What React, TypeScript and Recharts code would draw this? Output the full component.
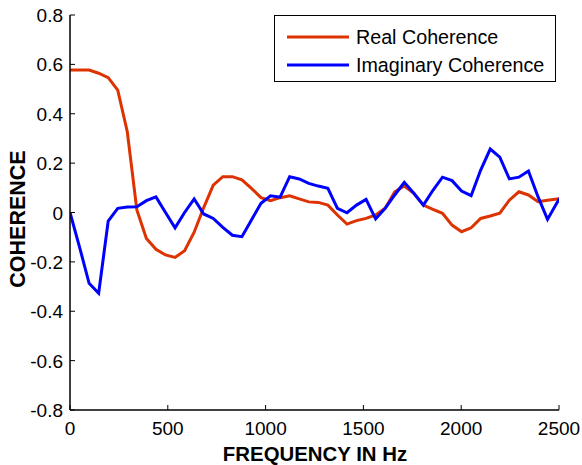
import React from "react";
import {
  LineChart,
  Line,
  XAxis,
  YAxis,
  Legend,
} from "recharts";

// frequency bins (Hz), ~48.8 Hz apart; the last one lies past the axis and is clipped
const FREQUENCY = [
  0, 48.8, 97.7, 146.5, 195.3, 244.1, 292.9, 341.8, 390.6, 439.5, 488.3, 537.1,
  585.9, 634.8, 683.6, 732.4, 781.3, 830.1, 878.9, 927.7, 976.6, 1025.4, 1074.2,
  1123.0, 1171.9, 1220.7, 1269.5, 1318.4, 1367.2, 1416.0, 1464.8, 1513.7, 1562.5,
  1611.3, 1660.2, 1709.0, 1757.8, 1806.6, 1855.5, 1904.3, 1953.1, 2001.9, 2050.8,
  2099.6, 2148.4, 2197.3, 2246.1, 2294.9, 2343.8, 2392.6, 2441.4, 2490.2, 2539.1,
];

const REAL_COHERENCE = [
  0.577, 0.577, 0.577, 0.564, 0.546, 0.496, 0.327, 0.01, -0.105, -0.149, -0.172,
  -0.182, -0.155, -0.08, 0.02, 0.111, 0.145, 0.145, 0.132, 0.098, 0.06, 0.048,
  0.06, 0.068, 0.055, 0.043, 0.041, 0.03, -0.01, -0.047, -0.033, -0.024, -0.01,
  0.017, 0.084, 0.107, 0.078, 0.03, 0.013, -0.003, -0.051, -0.078, -0.062,
  -0.024, -0.014, -0.003, 0.05, 0.084, 0.071, 0.044, 0.05, 0.055, 0.06,
];

const IMAGINARY_COHERENCE = [
  0.0, -0.14, -0.287, -0.327, -0.035, 0.017, 0.022, 0.023, 0.048, 0.063, 0.0,
  -0.062, 0.0, 0.055, -0.006, -0.024, -0.06, -0.092, -0.098, -0.03, 0.037, 0.068,
  0.062, 0.145, 0.136, 0.118, 0.107, 0.098, 0.017, -0.001, 0.03, 0.053, -0.026,
  0.017, 0.071, 0.122, 0.078, 0.03, 0.09, 0.143, 0.129, 0.087, 0.068, 0.172,
  0.257, 0.224, 0.136, 0.143, 0.168, 0.064, -0.028, 0.04, 0.1,
];

const X_TICKS = [0, 500, 1000, 1500, 2000, 2500];
const Y_TICKS = [-0.8, -0.6, -0.4, -0.2, 0, 0.2, 0.4, 0.6, 0.8];

const RED = "#dd3300";
const BLUE = "#0000ff";
const FONT = "'Liberation Sans', Arial, sans-serif";

const data = FREQUENCY.map((f, i) => ({
  freq: f,
  real: REAL_COHERENCE[i],
  imag: IMAGINARY_COHERENCE[i],
}));

const fmtY = (v: number) => (v === 0 ? "0" : v.toFixed(1));

const BottomTick = ({ x, y, payload }: any) => (
  <g>
    <line x1={x} x2={x} y1={y} y2={y - 5} stroke="#000" strokeWidth={1} />
    <text x={x} y={y + 25} textAnchor="middle" fontSize={19} fontFamily={FONT} fill="#000">
      {payload.value}
    </text>
  </g>
);

const LeftTick = ({ x, y, payload }: any) => (
  <g>
    <line x1={x} x2={x + 5} y1={y} y2={y} stroke="#000" strokeWidth={1} />
    <text x={x - 7} y={y + 7} textAnchor="end" fontSize={19} fontFamily={FONT} fill="#000">
      {fmtY(payload.value)}
    </text>
  </g>
);

const TopTick = ({ x, y }: any) => (
  <line x1={x} x2={x} y1={y} y2={y + 5} stroke="#000" strokeWidth={1} />
);

const RightTick = ({ x, y }: any) => (
  <line x1={x} x2={x - 5} y1={y} y2={y} stroke="#000" strokeWidth={1} />
);

const LegendBox = () => (
  <div
    style={{
      width: 282,
      height: 67,
      border: "1px solid #000",
      background: "#fff",
      fontFamily: FONT,
      fontSize: 19.7,
      color: "#000",
      boxSizing: "border-box",
    }}
  >
    {[
      { name: "Real Coherence", color: RED },
      { name: "Imaginary Coherence", color: BLUE },
    ].map((item, i) => (
      <div
        key={item.name}
        style={{
          position: "absolute",
          left: 13,
          top: 10 + i * 28,
          height: 24,
          display: "flex",
          alignItems: "center",
          whiteSpace: "nowrap",
        }}
      >
        <svg width={62} height={6} style={{ marginRight: 7 }}>
          <line x1={0} x2={62} y1={3} y2={3} stroke={item.color} strokeWidth={3} />
        </svg>
        <span>{item.name}</span>
      </div>
    ))}
  </div>
);

export default function App() {
  return (
    <div style={{ position: "absolute", left: 0, top: 0, background: "#fff" }}>
      <LineChart
        width={582}
        height={465}
        data={data}
        margin={{ top: 15, right: 23, bottom: 0, left: 0 }}
      >
        <XAxis
          dataKey="freq"
          type="number"
          domain={[0, 2500]}
          allowDataOverflow
          ticks={X_TICKS}
          interval={0}
          height={55}
          tickSize={0}
          tickMargin={0}
          tickLine={false}
          axisLine={{ stroke: "#000", strokeWidth: 1.5 }}
          tick={<BottomTick />}
          label={() => (
            <text
              x={315}
              y={461}
              textAnchor="middle"
              fontSize={20.4}
              fontWeight="bold"
              fontFamily={FONT}
              fill="#000"
            >
              FREQUENCY IN Hz
            </text>
          )}
        />
        <XAxis
          xAxisId="top"
          orientation="top"
          type="number"
          domain={[0, 2500]}
          allowDataOverflow
          ticks={X_TICKS}
          interval={0}
          height={0}
          tickSize={0}
          tickMargin={0}
          tickLine={false}
          axisLine={{ stroke: "#222", strokeWidth: 1.2 }}
          tick={<TopTick />}
        />
        <YAxis
          type="number"
          domain={[-0.8, 0.8]}
          allowDataOverflow
          ticks={Y_TICKS}
          interval={0}
          width={70}
          tickSize={0}
          tickMargin={0}
          tickLine={false}
          axisLine={{ stroke: "#000", strokeWidth: 1.5 }}
          tick={<LeftTick />}
          label={() => (
            <text
              x={18}
              y={219}
              transform="rotate(-90 18 219)"
              textAnchor="middle"
              dominantBaseline="central"
              fontSize={21.5}
              fontWeight="bold"
              fontFamily={FONT}
              fill="#000"
            >
              COHERENCE
            </text>
          )}
        />
        <YAxis
          yAxisId="right"
          orientation="right"
          type="number"
          domain={[-0.8, 0.8]}
          allowDataOverflow
          ticks={Y_TICKS}
          interval={0}
          width={0}
          tickSize={0}
          tickMargin={0}
          tickLine={false}
          axisLine={{ stroke: "#222", strokeWidth: 1.2 }}
          tick={<RightTick />}
        />
        <Legend
          layout="vertical"
          align="center"
          verticalAlign="middle"
          content={() => <LegendBox />}
          wrapperStyle={{ left: 274, top: 15, width: 282, height: 67 }}
        />
        <Line
          dataKey="real"
          type="linear"
          stroke={RED}
          strokeWidth={3}
          dot={false}
          activeDot={false}
          isAnimationActive={false}
        />
        <Line
          dataKey="imag"
          type="linear"
          stroke={BLUE}
          strokeWidth={3}
          dot={false}
          activeDot={false}
          isAnimationActive={false}
        />
      </LineChart>
    </div>
  );
}
